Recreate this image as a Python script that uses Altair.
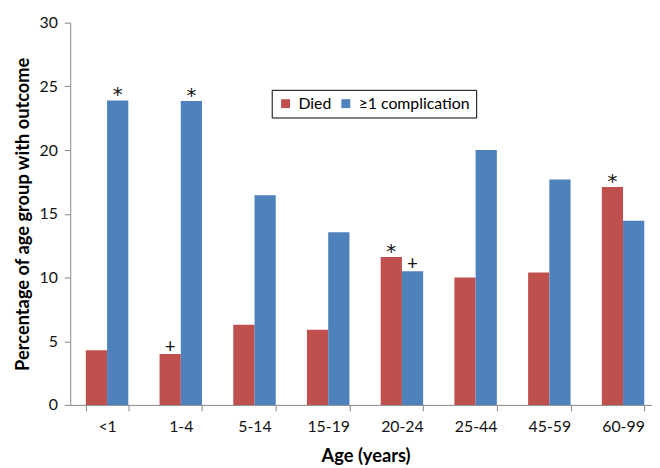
import altair as alt
import pandas as pd

ages = ["<1", "1-4", "5-14", "15-19", "20-24", "25-44", "45-59", "60-99"]
series = ["Died", "≥1 complication"]
died = [4.3, 4.0, 6.3, 5.9, 11.6, 10.0, 10.4, 17.1]
complication = [23.9, 23.85, 16.45, 13.55, 10.5, 20.0, 17.7, 14.45]
colors = ["#C0504D", "#4F81BD"]

# significance markers: (age, series, symbol)
marker_age = ["<1", "1-4", "1-4", "20-24", "20-24", "60-99"]
marker_series = ["≥1 complication", "≥1 complication", "Died", "Died", "≥1 complication", "Died"]
marker_sym = ["*", "*", "+", "*", "+", "*"]

rows = []
for a, d, c in zip(ages, died, complication):
    rows.append({"age": a, "series": series[0], "value": d})
    rows.append({"age": a, "series": series[1], "value": c})
df = pd.DataFrame(rows)

lookup = {(r["age"], r["series"]): r["value"] for r in rows}
mk = pd.DataFrame({
    "age": marker_age,
    "series": marker_series,
    "sym": marker_sym,
    "value": [lookup[(a, s)] for a, s in zip(marker_age, marker_series)],
})

FONT = "Lato"
AX = "#868686"

x_enc = alt.X(
    "age:N",
    sort=ages,
    scale=alt.Scale(range=[0, 597], paddingInner=0.424, paddingOuter=0.212),
    axis=alt.Axis(
        title="Age (years)",
        titleFont=FONT, titleFontSize=18.5, titleFontWeight="bold", titleColor="#000",
        titlePadding=12,
        labelFont=FONT, labelFontSize=16, labelColor="#111", labelAngle=0,
        labelPadding=8,
        tickBand="extent", tickSize=6, tickColor=AX, domainColor=AX,
        titleX=299,
    ),
)
xo = alt.XOffset("series:N", sort=series,
                 scale=alt.Scale(domain=series, paddingInner=0, paddingOuter=0))
y_enc = alt.Y(
    "value:Q",
    scale=alt.Scale(domain=[0, 30], nice=False),
    axis=alt.Axis(
        title="Percentage of age group with outcome",
        titleFont=FONT, titleFontSize=18.5, titleFontWeight="bold", titleColor="#000",
        titleX=-42, titleBaseline="alphabetic",
        labelFont=FONT, labelFontSize=16, labelColor="#111", labelPadding=7,
        values=[0, 5, 10, 15, 20, 25, 30], grid=False,
        tickSize=6, tickColor=AX, domainColor=AX,
    ),
)

bars = alt.Chart(df).mark_bar().encode(
    x=x_enc,
    xOffset=xo,
    y=y_enc,
    color=alt.Color(
        "series:N",
        scale=alt.Scale(domain=series, range=colors),
        legend=alt.Legend(
            title=None, orient="none", legendX=204, legendY=68,
            direction="horizontal", symbolType="square", symbolSize=81,
            symbolStrokeWidth=0, labelFont=FONT, labelFontSize=16,
            labelColor="#000", labelOffset=5, columnPadding=6,
            strokeColor="#000", fillColor="#fff", padding=6,
        ),
    ),
)

stars = alt.Chart(mk).transform_filter(alt.datum.sym == "*").mark_text(
    font="DejaVu Sans", fontSize=20, baseline="alphabetic", dy=1, color="#111"
).encode(
    x=alt.X("age:N", sort=ages),
    xOffset=alt.XOffset("series:N", sort=series),
    y="value:Q",
    text="sym:N",
)

plus = alt.Chart(mk).transform_filter(alt.datum.sym == "+").mark_text(
    font=FONT, fontSize=19, baseline="alphabetic", dy=-1, color="#111"
).encode(
    x=alt.X("age:N", sort=ages),
    xOffset=alt.XOffset("series:N", sort=series),
    y="value:Q",
    text="sym:N",
)

chart = alt.layer(bars, stars, plus).properties(
    width=589, height=387,
    autosize=alt.AutoSizeParams(type="none"),
    padding={"left": 63, "top": 12, "right": 0, "bottom": 60},
).configure_view(stroke=None)

chart.save("out.html", embed_options={"renderer": "svg", "actions": False})
